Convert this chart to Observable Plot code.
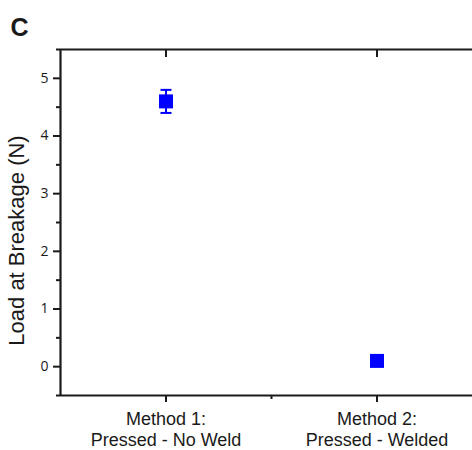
<!DOCTYPE html>
<html><head><meta charset="utf-8">
<script src="https://cdn.jsdelivr.net/npm/d3@7"></script>
<script src="https://cdn.jsdelivr.net/npm/@observablehq/plot@0.6"></script>
<style>body{margin:0;background:#fff}</style>
</head><body><div id="chart"></div>
<script>
const categories = ["Method 1:\nPressed - No Weld", "Method 2:\nPressed - Welded"];
const categoryPos = [1, 2];
const meanLoad = [4.6, 0.1];
const errLoad = [0.2, 0.03];
const yTickValues = [0, 1, 2, 3, 4, 5];
const yMinorTicks = [-0.5, 0.5, 1.5, 2.5, 3.5, 4.5, 5.5];
const xMinorTicks = [1.5];
const yLabel = "Load at Breakage (N)";
const panelLabel = "C";

const data = categories.map((c, i) => ({pos: categoryPos[i], mean: meanLoad[i], lo: meanLoad[i] - errLoad[i], hi: meanLoad[i] + errLoad[i]}));
const cap = {draw(ctx) { ctx.moveTo(-5.5, 0); ctx.lineTo(5.5, 0); }};
const blue = "#0000ff";
const axisColor = "#1a1a1a";

const chart = Plot.plot({
  width: 472, height: 450,
  marginLeft: 60, marginTop: 49, marginBottom: 55, marginRight: 0,
  x: {domain: [0.5, 2.5], range: [60, 482]},
  y: {domain: [-0.5, 5.5], range: [395, 49]},
  style: {fontFamily: "'Liberation Sans', Arial, sans-serif", color: axisColor, background: "#fff", overflow: "hidden"},
  marks: [
    Plot.axisY(yTickValues, {anchor: "left", tickSize: 7, tickPadding: 5, fontSize: 14, fontFamily: "'Open Sans'", tickFormat: d3.format("d"), label: null, strokeWidth: 2}),
    Plot.axisY(yMinorTicks, {anchor: "left", tickSize: 4, tickFormat: () => "", label: null, strokeWidth: 2}),
    Plot.axisX(categoryPos, {anchor: "bottom", tickSize: 7, tickPadding: 7, fontSize: 18, tickFormat: (d) => categories[categoryPos.indexOf(d)], lineHeight: 1.2, label: null, strokeWidth: 2}),
    Plot.axisX(xMinorTicks, {anchor: "bottom", tickSize: 4, tickFormat: () => "", label: null, strokeWidth: 2}),
    Plot.axisX(categoryPos, {anchor: "top", tickSize: -7, tickFormat: () => "", label: null, strokeWidth: 2}),
    Plot.ruleX([0.5], {y1: -0.5, y2: 5.5, strokeWidth: 2.2}),
    Plot.ruleY([-0.5, 5.5], {x1: 0.5, x2: 2.5, strokeWidth: 2.2}),
    Plot.ruleX(data, {x: "pos", y1: "lo", y2: "hi", stroke: blue, strokeWidth: 2}),
    Plot.dot(data, {x: "pos", y: "lo", symbol: cap, stroke: blue, strokeWidth: 2}),
    Plot.dot(data, {x: "pos", y: "hi", symbol: cap, stroke: blue, strokeWidth: 2}),
    Plot.dot(data, {x: "pos", y: "mean", symbol: "square", r: 7.9, fill: blue}),
    Plot.text([yLabel], {frameAnchor: "left", rotate: -90, dx: -44, dy: 18, textAnchor: "middle", fontSize: 22, text: (d) => d}),
    Plot.text([panelLabel], {frameAnchor: "top-left", dx: -50, dy: -14, fontSize: 25, fontWeight: "bold", textAnchor: "start", lineAnchor: "bottom", text: (d) => d})
  ]
});
document.getElementById("chart").appendChild(chart);
</script>
</body></html>
